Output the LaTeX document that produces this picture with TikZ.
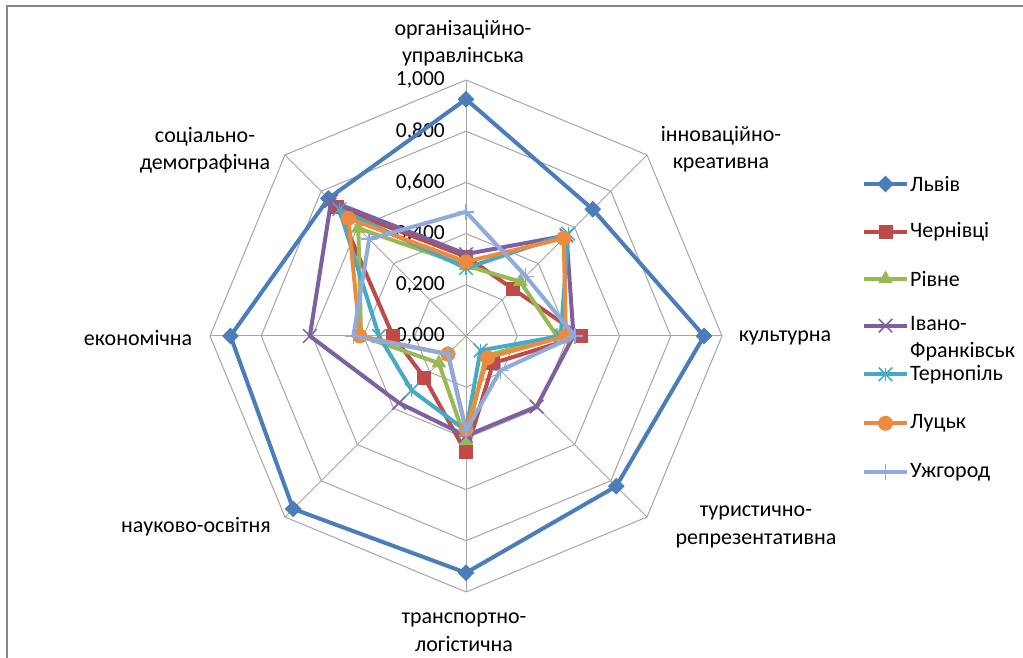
\documentclass[tikz,border=0pt]{standalone}
\usepackage{fontspec}
\setmainfont{Carlito}
\usetikzlibrary{shapes.geometric,shapes.misc}
\definecolor{cLv}{HTML}{4A7EBB}
\definecolor{cCh}{HTML}{BE4B48}
\definecolor{cRi}{HTML}{98B954}
\definecolor{cIF}{HTML}{7D60A0}
\definecolor{cTe}{HTML}{46AAC5}
\definecolor{cLu}{HTML}{EE8A3E}
\definecolor{cUz}{HTML}{8FAADC}
\definecolor{gridc}{HTML}{A6A6A6}
\definecolor{framec}{HTML}{878787}
\newcommand\drawseries[3]{%
  \foreach \v [count=\i] in {#3} \coordinate (#1\i) at ({135-45*\i}:{\v*256});
  \draw[serline, draw=#2] (#11) -- (#12) -- (#13) -- (#14) -- (#15) -- (#16) -- (#17) -- (#18) -- cycle;
}
\begin{document}
\begin{tikzpicture}[x=1pt,y=1pt,
 gridline/.style={draw=gridc, line width=1pt},
 serline/.style={line width=4pt, line join=round},
 lbl/.style={font=\fontsize{22}{27.5}\selectfont, align=center, inner sep=0pt},
 legtext/.style={font=\fontsize{22}{27}\selectfont, align=left, inner sep=0pt, anchor=west},
 tick/.style={font=\fontsize{21.5}{27}\selectfont, anchor=east, inner sep=0pt},
 mkdiam/.style={diamond, fill=#1, minimum size=17pt, inner sep=0pt},
 mksq/.style={rectangle, fill=#1, minimum size=14pt, inner sep=0pt},
 mktri/.style={regular polygon, regular polygon sides=3, fill=#1, minimum size=17pt, inner sep=0pt},
 mkx/.style={cross out, draw=#1, line width=1.5pt, minimum size=12pt, inner sep=0pt},
 mkstar/.style={cross out, draw=#1, line width=1.5pt, minimum size=12pt, inner sep=0pt},
 mkcirc/.style={circle, fill=#1, minimum size=15pt, inner sep=0pt},
 mkplus/.style={rectangle, minimum size=16pt, inner sep=0pt},
 mkline/.style={line width=1.5pt},
]
\useasboundingbox (0,0) rectangle (1023,658);
\fill[white] (0,0) rectangle (1023,658);
\draw[framec, line width=2.5pt] (7,0) -- (7,652) -- (1023,652);

\begin{scope}[shift={(466,322)}]
% grid
\foreach \r in {1,...,5}
  \draw[gridline] (90:\r*51.2) -- (45:\r*51.2) -- (0:\r*51.2) -- (-45:\r*51.2) -- (-90:\r*51.2) -- (-135:\r*51.2) -- (180:\r*51.2) -- (135:\r*51.2) -- cycle;
\foreach \k in {0,...,7}
  \draw[gridline] (0,0) -- ({90-45*\k}:256);

% tick labels
\node[tick] (t0) at (-21,0) {0,000};
\node[tick] (t1) at (-21,51.2) {0,200};
\node[tick] (t2) at (-21,102.4) {0,400};
\node[tick] (t3) at (-21,153.6) {0,600};
\node[tick] (t4) at (-21,204.8) {0,800};
\node[tick] (t5) at (-21,256) {1,000};

% series
\drawseries{L}{cLv}{0.925,0.70,0.93,0.83,0.925,0.955,0.92,0.76}
\foreach \i in {1,...,8} \node[mkdiam=cLv] (mL\i) at (L\i) {};

\drawseries{C}{cCh}{0.31,0.26,0.45,0.15,0.455,0.23,0.285,0.71}
\foreach \i in {1,...,8} \node[mksq=cCh] (mC\i) at (C\i) {};

\drawseries{R}{cRi}{0.275,0.30,0.355,0.11,0.41,0.15,0.41,0.595}
\foreach \i in {1,...,8} \node[mktri=cRi] (mR\i) at (R\i) {};

\drawseries{I}{cIF}{0.32,0.555,0.42,0.39,0.39,0.37,0.61,0.745}
\foreach \i in {1,...,8} \node[mkx=cIF] (mI\i) at (I\i) {};

\drawseries{T}{cTe}{0.265,0.565,0.37,0.08,0.37,0.30,0.34,0.70}
\foreach \i in {1,...,8} {\node[mkstar=cTe] (mT\i) at (T\i) {};
  \draw[mkline, cTe] (mT\i.north) -- (mT\i.south);}

\drawseries{K}{cLu}{0.29,0.54,0.39,0.12,0.365,0.10,0.415,0.65}
\foreach \i in {1,...,8} \node[mkcirc=cLu] (mK\i) at (K\i) {};

\drawseries{U}{cUz}{0.485,0.33,0.425,0.19,0.37,0.10,0.44,0.535}
\foreach \i in {1,...,8} {\node[mkplus] (mU\i) at (U\i) {};
  \draw[mkline, cUz] (mU\i.north) -- (mU\i.south) (mU\i.west) -- (mU\i.east);}
\end{scope}

% axis labels
\node[lbl] (a1) at (463,615) {організаційно-\\управлінська};
\node[lbl] (a2) at (721,509) {інноваційно-\\креативна};
\node[lbl] (a3) at (785,320) {культурна};
\node[lbl] (a4) at (756,131) {туристично-\\репрезентативна};
\node[lbl] (a5) at (464,26) {транспортно-\\логістична};
\node[lbl] (a6) at (196,131) {науково-освітня};
\node[lbl] (a7) at (138,320) {економічна};
\node[lbl] (a8) at (205,508) {соціально-\\демографічна};

% legend
\coordinate (g1a) at (864,474); \coordinate (g1b) at (907,474);
\draw[serline, cLv] (g1a) -- (g1b);
\node[mkdiam=cLv] (g1m) at (885.5,474) {};
\node[legtext] (g1t) at (910,474) {Львів};

\coordinate (g2a) at (864,426.3); \coordinate (g2b) at (907,426.3);
\draw[serline, cCh] (g2a) -- (g2b);
\node[mksq=cCh] (g2m) at (885.5,426.3) {};
\node[legtext] (g2t) at (910,426.3) {Чернівці};

\coordinate (g3a) at (864,379); \coordinate (g3b) at (907,379);
\draw[serline, cRi] (g3a) -- (g3b);
\node[mktri=cRi] (g3m) at (885.5,379) {};
\node[legtext] (g3t) at (910,379) {Рівне};

\coordinate (g4a) at (864,332.3); \coordinate (g4b) at (907,332.3);
\draw[serline, cIF] (g4a) -- (g4b);
\node[mkx=cIF] (g4m) at (885.5,332.3) {};
\node[legtext] (g4t) at (910,318.8) {Івано-\\Франківськ};

\coordinate (g5a) at (864,283.7); \coordinate (g5b) at (907,283.7);
\draw[serline, cTe] (g5a) -- (g5b);
\node[mkstar=cTe] (g5m) at (885.5,283.7) {};
\draw[mkline, cTe] (g5m.north) -- (g5m.south);
\node[legtext] (g5t) at (910,283.7) {Тернопіль};

\coordinate (g6a) at (864,234.7); \coordinate (g6b) at (907,234.7);
\draw[serline, cLu] (g6a) -- (g6b);
\node[mkcirc=cLu] (g6m) at (885.5,234.7) {};
\node[legtext] (g6t) at (910,234.7) {Луцьк};

\coordinate (g7a) at (864,185.7); \coordinate (g7b) at (907,185.7);
\draw[serline, cUz] (g7a) -- (g7b);
\node[mkplus] (g7m) at (885.5,185.7) {};
\draw[mkline, cUz] (g7m.north) -- (g7m.south) (g7m.west) -- (g7m.east);
\node[legtext] (g7t) at (910,185.7) {Ужгород};
\end{tikzpicture}
\end{document}
